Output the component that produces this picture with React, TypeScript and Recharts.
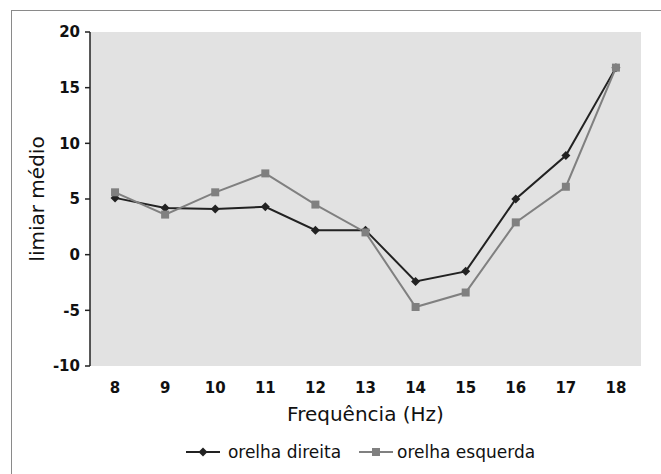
import React from 'react';
import { LineChart, Line, XAxis, YAxis, CartesianGrid, Legend, Label } from 'recharts';

const FREQUENCIES = ['8', '9', '10', '11', '12', '13', '14', '15', '16', '17', '18'];
const OREHLA_DIREITA = [5.1, 4.2, 4.1, 4.3, 2.2, 2.2, -2.4, -1.5, 5.0, 8.9, 16.8];
const ORELHA_ESQUERDA = [5.6, 3.6, 5.6, 7.3, 4.5, 2.0, -4.7, -3.4, 2.9, 6.1, 16.8];
const Y_TICKS = [-10, -5, 0, 5, 10, 15, 20];
const EDGE_TICKS = [0, 1, 2, 3, 4, 5, 6, 7, 8, 9, 10, 11];

const data = FREQUENCIES.map((freq, i) => ({
  freq,
  pos: i + 0.5,
  direita: OREHLA_DIREITA[i],
  esquerda: ORELHA_ESQUERDA[i],
}));

const FONT = '"DejaVu Sans", Verdana, sans-serif';
const DARK = '#222222';
const GREY = '#808080';

const Diamond = (props: any) => {
  const { cx, cy, fill } = props;
  if (cx == null || cy == null) return null;
  return <path d={`M${cx},${cy - 4.5} L${cx + 4.5},${cy} L${cx},${cy + 4.5} L${cx - 4.5},${cy} Z`} fill={fill} />;
};

const Square = (props: any) => {
  const { cx, cy, fill } = props;
  if (cx == null || cy == null) return null;
  return <rect x={cx - 4} y={cy - 4} width={8} height={8} fill={fill} />;
};

const LegendIcon = ({ color, shape }: { color: string; shape: 'diamond' | 'square' }) => (
  <svg width={34} height={12} style={{ display: 'block' }}>
    <line x1={0} y1={6} x2={34} y2={6} stroke={color} strokeWidth={2} />
    {shape === 'diamond' ? (
      <path d="M17,1.5 L21.5,6 L17,10.5 L12.5,6 Z" fill={color} />
    ) : (
      <rect x={13} y={2} width={8} height={8} fill={color} />
    )}
  </svg>
);

const renderLegend = () => (
  <div
    style={{
      display: 'flex',
      justifyContent: 'center',
      alignItems: 'center',
      height: 24,
      paddingLeft: 50,
      fontFamily: FONT,
      fontSize: 17,
      color: '#111',
    }}
  >
    <LegendIcon color={DARK} shape="diamond" />
    <span style={{ marginLeft: 8, marginRight: 18 }}>orelha direita</span>
    <LegendIcon color={GREY} shape="square" />
    <span style={{ marginLeft: 4 }}>orelha esquerda</span>
  </div>
);

const App: React.FC = () => {
  return (
    <div style={{ position: 'fixed', left: 0, top: 0, width: 661, height: 474, overflow: 'hidden', background: '#fff' }}>
      <div
        style={{
          position: 'absolute',
          left: 11,
          top: 10,
          width: 680,
          height: 490,
          border: '1px solid #8a8a8a',
        }}
      />
      <div style={{ position: 'absolute', left: 0, top: 0 }}>
        <LineChart width={661} height={474} data={data} margin={{ top: 32, right: 20, bottom: 10, left: 30 }}>
          <CartesianGrid horizontal={false} vertical={false} fill="#e2e2e2" />
          <XAxis
            xAxisId="edge"
            type="number"
            dataKey="pos"
            domain={[0, 11]}
            ticks={EDGE_TICKS}
            tick={false}
            tickSize={5}
            height={0}
            stroke={DARK}
            axisLine={{ stroke: DARK, strokeWidth: 1.5 }}
            tickLine={{ stroke: DARK, strokeWidth: 1.5 }}
          />
          <XAxis
            xAxisId="cat"
            dataKey="freq"
            scale="band"
            tickLine={false}
            axisLine={false}
            tickSize={5}
            tickMargin={11}
            height={74}
            tick={{ fill: '#111', fontSize: 15, fontWeight: 'bold', fontFamily: FONT }}
          >
            <Label
              value="Frequência (Hz)"
              position="insideBottom"
              offset={19}
              style={{ fill: '#111', fontSize: 20, fontFamily: FONT }}
            />
          </XAxis>
          <YAxis
            domain={[-10, 20]}
            ticks={Y_TICKS}
            width={60}
            tickSize={5}
            tickMargin={5}
            stroke={DARK}
            axisLine={{ stroke: DARK, strokeWidth: 1.5 }}
            tickLine={{ stroke: DARK, strokeWidth: 1.5 }}
            tick={{ fill: '#111', fontSize: 15, fontWeight: 'bold', fontFamily: FONT }}
          >
            <Label
              value="limiar médio"
              angle={-90}
              position="insideLeft"
              offset={7}
              style={{ fill: '#111', fontSize: 20, fontFamily: FONT, textAnchor: 'middle' }}
            />
          </YAxis>
          <Legend verticalAlign="bottom" height={24} content={renderLegend} />
          <Line
            xAxisId="cat"
            type="linear"
            dataKey="direita"
            name="orelha direita"
            stroke={DARK}
            strokeWidth={2}
            fill={DARK}
            dot={<Diamond fill={DARK} />}
            activeDot={false}
            isAnimationActive={false}
          />
          <Line
            xAxisId="cat"
            type="linear"
            dataKey="esquerda"
            name="orelha esquerda"
            stroke={GREY}
            strokeWidth={2}
            fill={GREY}
            dot={<Square fill={GREY} />}
            activeDot={false}
            isAnimationActive={false}
          />
        </LineChart>
      </div>
    </div>
  );
};

export default App;
